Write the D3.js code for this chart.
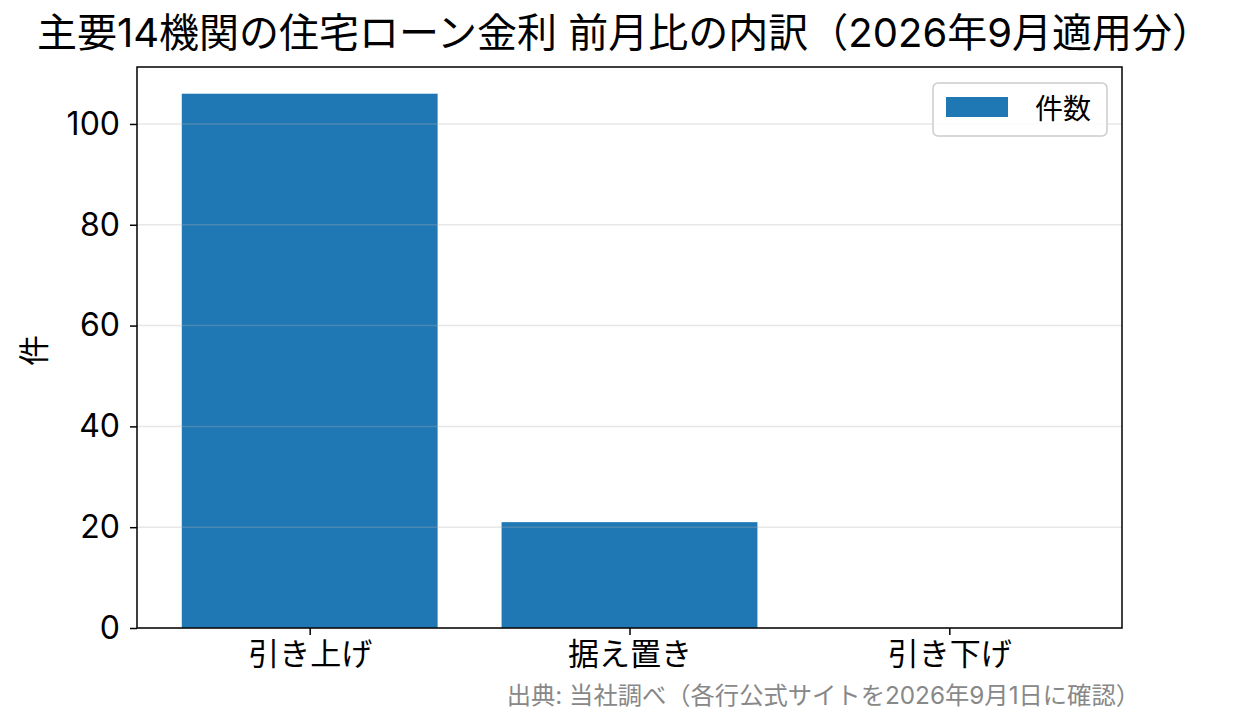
<!DOCTYPE html>
<html>
<head>
<meta charset="utf-8">
<script src="https://cdn.jsdelivr.net/npm/d3@7"></script>
<style>
  body { margin: 0; background: #fff; }
  text { font-family: Inter, "Noto Sans CJK JP", sans-serif; }
</style>
</head>
<body>
<div id="chart"></div>
<script>
// data
var categories = ["引き上げ", "据え置き", "引き下げ"]
var counts = [106, 21, 0]
var yTicks = [0, 20, 40, 60, 80, 100]
var seriesName = "件数"
var titleText = "主要14機関の住宅ローン金利 前月比の内訳（2026年9月適用分）"
var sourceText = "出典: 当社調べ（各行公式サイトを2026年9月1日に確認）"

var W = 1239, H = 725
var m = {left: 137, right: 1122, top: 67, bottom: 628}

var svg = d3.select("#chart").append("svg")
  .attr("width", W)
  .attr("height", H)

// x: bands of width 0.8, matplotlib-like margins
var x = d3.scaleLinear().domain([-0.54, 2.54]).range([m.left, m.right])
var y = d3.scaleLinear().domain([0, 111.3]).range([m.bottom, m.top])

svg.append("g").selectAll("rect")
  .data(counts).enter()
  .append("rect")
  .attr("x", function(d, i){ return x(i - 0.4) })
  .attr("width", function(d, i){ return x(i + 0.4) - x(i - 0.4) })
  .attr("y", function(d){ return y(d) })
  .attr("height", function(d){ return y(0) - y(d) })
  .style("fill", "#1f77b4")

// grid on top, light
svg.append("g").selectAll("line")
  .data(yTicks).enter()
  .append("line")
  .attr("x1", m.left).attr("x2", m.right)
  .attr("y1", function(d){ return y(d) }).attr("y2", function(d){ return y(d) })
  .style("stroke", "#b0b0b0")
  .style("stroke-opacity", 0.3)
  .style("stroke-width", 1.5)

// axes
var yAxis = d3.axisLeft(y).tickValues(yTicks).tickSize(7).tickPadding(10)
var gy = svg.append("g").attr("transform", "translate(" + m.left + ",0)").call(yAxis)
gy.select(".domain").remove()
gy.selectAll("text").style("font-size", "32px").style("fill", "#000")
gy.selectAll("line").style("stroke", "#000").style("stroke-width", 1.5)

var xAxis = d3.axisBottom(x).tickValues([0, 1, 2])
  .tickFormat(function(d){ return categories[d] }).tickSize(7).tickPadding(8)
var gx = svg.append("g").attr("transform", "translate(0," + m.bottom + ")").call(xAxis)
gx.select(".domain").remove()
gx.selectAll("text").style("font-size", "31px").style("fill", "#000")
gx.selectAll("line").style("stroke", "#000").style("stroke-width", 1.5)

// frame
svg.append("rect")
  .attr("x", m.left).attr("y", m.top)
  .attr("width", m.right - m.left).attr("height", m.bottom - m.top)
  .style("fill", "none").style("stroke", "#000").style("stroke-width", 1.5)

// y label
svg.append("text")
  .attr("transform", "translate(45," + ((m.top + m.bottom) / 2 + 3) + ") rotate(-90)")
  .attr("text-anchor", "middle")
  .style("font-size", "31px")
  .text("件")

// title
svg.append("text")
  .attr("x", W / 2 + 5).attr("y", 47)
  .attr("text-anchor", "middle")
  .style("font-size", "40px")
  .text(titleText)

// legend
var lg = svg.append("g")
lg.append("rect")
  .attr("x", 933).attr("y", 83).attr("width", 174).attr("height", 53)
  .attr("rx", 5)
  .style("fill", "#fff").style("fill-opacity", 0.8)
  .style("stroke", "#cccccc").style("stroke-width", 1.5)
lg.append("rect")
  .attr("x", 946).attr("y", 97).attr("width", 62).attr("height", 20)
  .style("fill", "#1f77b4")
lg.append("text")
  .attr("x", 1035).attr("y", 119)
  .style("font-size", "28px")
  .text(seriesName)

// source
svg.append("text")
  .attr("x", 1140).attr("y", 704)
  .attr("text-anchor", "end")
  .style("font-size", "24.3px")
  .style("fill", "#888")
  .text(sourceText)
</script>
</body>
</html>
